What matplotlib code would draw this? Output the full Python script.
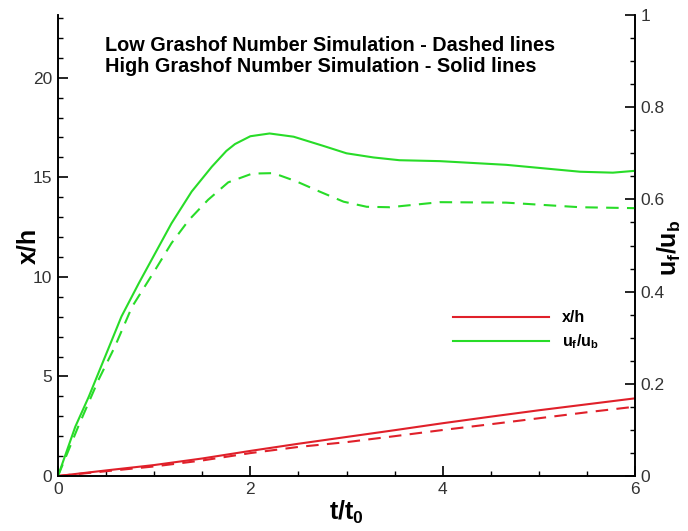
import matplotlib
matplotlib.use("Agg")
import matplotlib.pyplot as plt
from matplotlib.ticker import MultipleLocator

plt.rcParams['font.family'] = 'Liberation Sans'
plt.rcParams['mathtext.fontset'] = 'custom'
plt.rcParams['mathtext.rm'] = 'Liberation Sans'
plt.rcParams['mathtext.it'] = 'Liberation Sans:italic'
plt.rcParams['mathtext.bf'] = 'Liberation Sans:bold'

# front position x/h (left axis)
t_x = [0, 0.5, 1, 1.5, 2, 2.5, 3, 3.5, 4, 4.5, 5, 5.5, 6]
xh_high = [0, 0.28, 0.55, 0.88, 1.26, 1.62, 1.96, 2.3, 2.65, 2.98, 3.3, 3.6, 3.9]
xh_low = [0, 0.24, 0.48, 0.78, 1.15, 1.46, 1.7, 2.0, 2.31, 2.6, 2.9, 3.2, 3.48]

# front velocity u_f/u_b (right axis)
t_u_high = [0, 0.18, 0.32, 0.49, 0.66, 0.84, 1.01, 1.18, 1.39, 1.6, 1.75, 1.84, 2.0,
            2.2, 2.45, 2.76, 3.0, 3.28, 3.55, 3.97, 4.66, 5.43, 5.77, 6.0]
u_high = [0, 0.107, 0.172, 0.259, 0.346, 0.418, 0.483, 0.548, 0.617, 0.671, 0.705,
          0.72, 0.737, 0.743, 0.736, 0.716, 0.70, 0.691, 0.685, 0.683, 0.675, 0.66,
          0.658, 0.662]
t_u_low = [0, 0.21, 0.42, 0.59, 0.77, 1.01, 1.18, 1.36, 1.56, 1.77, 2.02, 2.24, 2.48,
           2.72, 2.97, 3.21, 3.45, 3.97, 4.66, 5.43, 6.0]
u_low = [0, 0.107, 0.208, 0.28, 0.367, 0.447, 0.505, 0.555, 0.599, 0.637, 0.656, 0.657,
         0.639, 0.617, 0.595, 0.584, 0.583, 0.594, 0.593, 0.583, 0.581]

red = '#e0202a'
green = '#28dc28'

fig = plt.figure(figsize=(6.88, 5.31), dpi=100)
ax = fig.add_axes((58 / 688, 55 / 531, 577 / 688, 461 / 531))
ax2 = ax.twinx()

l1, = ax.plot(t_x, xh_high, color=red, lw=1.5)
ax.plot(t_x, xh_low, color=red, lw=1.5, dashes=(6, 4))
l2, = ax2.plot(t_u_high, u_high, color=green, lw=1.5)
ax2.plot(t_u_low, u_low, color=green, lw=1.5, dashes=(6, 4))

ax.set_xlim(0, 6)
ax.set_ylim(0, 23.15)
ax2.set_ylim(0, 1)

ax.xaxis.set_major_locator(MultipleLocator(2))
ax.xaxis.set_minor_locator(MultipleLocator(0.5))
ax.yaxis.set_major_locator(MultipleLocator(5))
ax.yaxis.set_minor_locator(MultipleLocator(1))
ax2.set_yticks([0, 0.2, 0.4, 0.6, 0.8, 1], labels=['0', '0.2', '0.4', '0.6', '0.8', '1'])
ax2.yaxis.set_minor_locator(MultipleLocator(0.05))

for a in (ax, ax2):
    a.spines['top'].set_visible(False)
    for sp in a.spines.values():
        sp.set_linewidth(1.2)
    a.tick_params(which='major', direction='in', length=7, width=1.2, labelsize=12.5,
                  labelcolor='#333333', pad=4)
    a.tick_params(which='minor', direction='in', length=3.5, width=1.0)

ax.set_xlabel(r'$\mathbf{t/t_0}$', fontsize=18)
ax.xaxis.set_label_coords(0.5, -0.05)
ax.set_ylabel('x/h', fontsize=18, fontweight='bold')
ax.yaxis.set_label_coords(-0.03, 0.5)
ax2.set_ylabel(r'$\mathbf{u_f/u_b}$', fontsize=18, rotation=90)
ax2.yaxis.set_label_coords(1.036, 0.495)

ax.text(0.082, 0.9545, 'Low Grashof Number Simulation - Dashed lines\n'
        'High Grashof Number Simulation - Solid lines',
        transform=ax.transAxes, fontsize=14.3, fontweight='bold', va='top', ha='left',
        linespacing=1.15)

leg = ax2.legend([l1, l2], ['x/h', r'$\mathbf{u_f/u_b}$'], loc='center left',
                 bbox_to_anchor=(0.66, 0.315), frameon=False, handlelength=6,
                 prop={'weight': 'bold', 'size': 11.5}, labelspacing=0.45)

fig.savefig('out.png', dpi=100)
